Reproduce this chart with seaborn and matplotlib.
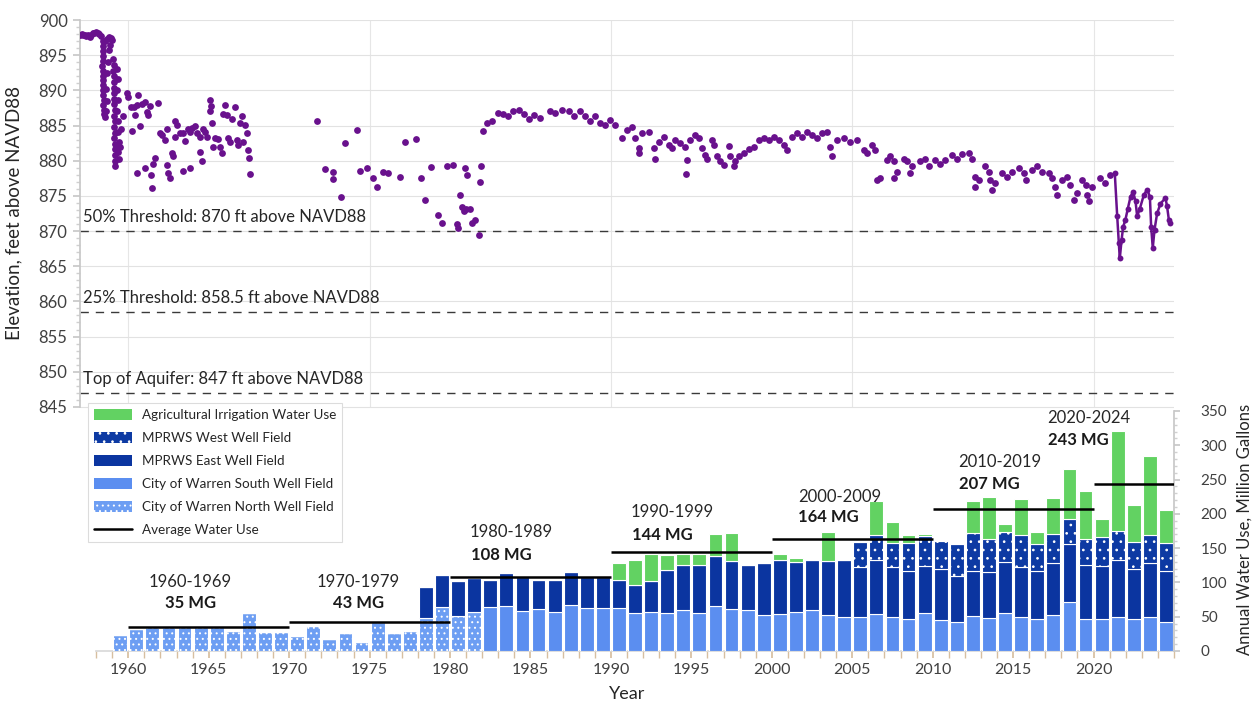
import numpy as np
import matplotlib
matplotlib.use('Agg')
import matplotlib.pyplot as plt
from matplotlib.patches import Patch
from matplotlib.lines import Line2D
import seaborn as sns

sns.set_theme(style='white')
plt.rcParams['font.family'] = ['Lato', 'DejaVu Sans']
plt.rcParams['hatch.linewidth'] = 0.7

# ---- annual water use, million gallons (1959-2024) ----
years = list(range(1959, 2025))
north = ([24, 32, 35, 35, 35, 35, 35, 29, 55, 28,
          28, 22, 36, 17.5, 26, 13, 43, 26, 29, 48,
          64, 51, 57] + [0] * 43)
south = ([0] * 23 +
         [64, 66, 59, 61, 57, 67, 63, 63,
          62, 55, 57, 56, 60, 56, 66, 61, 60, 53,
          54, 57, 60, 53, 50, 49, 54, 49, 46, 55,
          45, 42, 51, 48, 55, 49, 47, 52, 72, 46,
          46, 50, 46, 49, 43])
east = ([0] * 19 +
        [46, 47, 51, 50, 40, 47, 49, 43, 47, 48, 45, 45,
         41, 41, 45, 62, 66, 70, 73, 70, 66, 75,
         79, 73, 73, 78, 83, 74, 79, 73, 71, 69,
         75, 68, 66, 67, 75, 74, 69, 77, 84, 80,
         78, 83, 73, 80, 74])
west = ([0] * 46 +
        [36, 36, 36, 41, 43,
         41, 46, 55, 49, 43, 46, 40, 42, 37, 37,
         42, 42, 40, 40, 40])
ag = ([0] * 31 +
      [26, 37, 40, 22, 15, 15, 31, 41, 0, 0,
       9, 5, 0, 43, 0, 0, 50, 30, 11, 3,
       0, 0, 47, 60, 12, 52, 18, 52, 72, 71,
       26, 146, 54, 115, 49])

decade_start = [1960, 1970, 1980, 1990, 2000, 2010, 2020]
decade_end = [1970, 1980, 1990, 2000, 2010, 2020, 2025]
decade_avg = [35, 43, 108, 144, 164, 207, 243]
decade_names = ['1960-1969', '1970-1979', '1980-1989', '1990-1999',
                '2000-2009', '2010-2019', '2020-2024']

# ---- groundwater elevation, ft above NAVD88 (scattered measurements) ----
elev_year = [
    1957.00, 1957.10, 1957.20, 1957.30, 1957.40, 1957.50, 1957.60, 1957.70,
    1957.80, 1957.90, 1958.00, 1958.10, 1958.20, 1958.30, 1958.55, 1958.70,
    1958.80, 1958.90, 1959.00,
    1958.40, 1958.42, 1958.40, 1958.44, 1958.41, 1958.38, 1958.43, 1958.40,
    1958.45, 1958.42, 1958.46, 1958.43, 1958.49, 1958.45, 1958.52, 1958.50,
    1958.57, 1958.62, 1958.66, 1958.60, 1958.70, 1958.75, 1958.83, 1958.88,
    1959.06, 1959.10, 1959.08, 1959.12, 1959.09, 1959.13, 1959.10, 1959.14,
    1959.11, 1959.15, 1959.12, 1959.16, 1959.13, 1959.17, 1959.14, 1959.18,
    1959.15, 1959.19, 1959.16, 1959.18,
    1959.30, 1959.34, 1959.31, 1959.36, 1959.32, 1959.38, 1959.34, 1959.40,
    1959.36, 1959.42, 1959.50, 1959.55,
    1959.90, 1960.00, 1960.62, 1960.17, 1960.38, 1960.52, 1960.83, 1961.04,
    1961.35, 1961.83, 1960.42, 1961.14, 1961.25, 1959.69, 1960.73, 1960.21,
    1961.97, 1962.08, 1962.28, 1962.39, 1962.90, 1963.01, 1962.90, 1963.21,
    1963.42, 1963.53, 1963.73, 1963.84, 1963.94, 1964.15, 1964.25, 1964.46,
    1964.67, 1964.77, 1964.87, 1965.08, 1965.14, 1965.08, 1965.23, 1965.29,
    1965.39, 1965.60, 1965.70, 1965.81, 1966.01, 1965.91, 1966.12, 1966.22,
    1966.32, 1966.43, 1966.64, 1966.74, 1966.84, 1966.95, 1967.05, 1967.15,
    1967.26, 1967.36, 1967.46, 1967.51, 1967.57, 1964.46, 1964.56, 1963.84,
    1963.42, 1962.70, 1962.80, 1962.39, 1962.49, 1962.59, 1961.66, 1961.56,
    1961.41, 1961.04, 1960.52, 1961.48,
    1971.76, 1974.24, 1973.48, 1977.21, 1977.89, 1972.23, 1972.75, 1972.75,
    1973.21, 1974.41, 1974.87, 1975.24, 1975.45, 1975.86, 1976.13, 1976.86,
    1978.20, 1978.45, 1978.82, 1979.28, 1979.49, 1979.84, 1980.17, 1980.59,
    1980.73, 1980.84, 1981.00, 1981.25, 1980.96, 1981.08, 1980.42, 1980.52,
    1981.35, 1981.56, 1981.77, 1981.91, 1981.87,
    1982.08, 1982.29, 1982.60, 1983.01, 1983.32, 1983.63, 1983.94, 1984.26,
    1984.57, 1984.88, 1985.19, 1985.60, 1986.23, 1986.54, 1986.95, 1987.37,
    1987.68, 1988.09, 1988.40, 1988.71, 1989.02, 1989.33, 1989.65, 1989.96,
    1990.27, 1990.68, 1990.99, 1991.30, 1991.51, 1991.72, 1991.72, 1991.93,
    1992.34, 1992.65, 1992.76, 1992.96, 1993.27, 1993.58, 1993.79, 1994.00,
    1994.31, 1994.62, 1994.72, 1994.68, 1994.93, 1995.24, 1995.45, 1995.66,
    1995.87, 1995.97, 1996.28, 1996.38, 1996.59, 1996.80, 1997.00, 1997.32,
    1997.42, 1997.63, 1997.73, 1997.94, 1998.25, 1998.56, 1998.87, 1999.18,
    1999.49, 1999.80, 2000.11, 2000.43, 2000.74, 2000.94, 2001.26, 2001.57,
    2001.88, 2002.19, 2002.50, 2002.81, 2003.12, 2003.43, 2003.64, 2003.74,
    2004.05, 2004.47, 2004.88, 2005.30, 2005.71, 2005.92, 2006.23, 2006.44,
    2006.54, 2006.75, 2007.16, 2007.37, 2007.58, 2007.58, 2007.79, 2008.20,
    2008.41, 2008.61, 2008.72, 2009.24, 2009.55, 2009.75, 2010.17, 2010.48,
    2010.79, 2011.20, 2011.52, 2011.83, 2012.24, 2012.45, 2012.66, 2012.66,
    2012.86, 2013.28, 2013.48, 2013.59, 2013.69, 2013.90, 2014.31, 2014.62,
    2014.94, 2015.35, 2015.66, 2015.77, 2016.18, 2016.49, 2016.80, 2017.22,
    2017.42, 2017.63, 2017.73, 2018.05, 2018.36, 2018.56, 2018.77, 2018.98,
    2019.29, 2019.50, 2019.60, 2019.70, 2019.91, 2020.43, 2020.74, 2021.05,
]
elev_ft = [
    897.9, 898.0, 897.8, 897.9, 897.7, 897.9, 897.6, 897.8,
    898.1, 898.2, 898.3, 898.2, 898.0, 897.7, 897.0, 897.3,
    897.6, 897.5, 897.1,
    897.0, 896.3, 895.6, 894.9, 894.2, 893.5, 892.8, 892.1,
    891.4, 890.7, 890.0, 889.3, 888.6, 887.9, 887.2, 886.6,
    886.2, 887.0, 888.5, 890.2, 892.4, 894.0, 895.8, 896.5,
    894.4, 893.6, 892.8, 892.0, 891.2, 890.4, 889.6, 888.8,
    888.0, 887.2, 886.4, 885.6, 884.8, 884.0, 883.2, 882.4,
    881.6, 880.8, 880.0, 879.3,
    893.0, 891.6, 890.1, 888.6, 887.1, 885.6, 884.1, 882.6,
    881.2, 880.2, 882.0, 884.5,
    889.6, 889.1, 889.4, 887.7, 887.7, 887.9, 888.0, 888.3,
    887.8, 888.2, 886.5, 886.9, 886.5, 886.3, 885.0, 884.2,
    884.0, 883.7, 882.9, 884.5, 885.6, 885.1, 883.3, 883.9,
    884.0, 882.8, 884.5, 884.1, 884.6, 885.0, 883.9, 883.3,
    884.5, 884.1, 883.4, 888.6, 887.8, 887.0, 885.3, 882.0,
    883.2, 883.1, 882.0, 881.1, 887.9, 886.7, 886.5, 883.2,
    882.7, 885.9, 887.7, 882.9, 882.3, 885.3, 886.4, 882.7,
    885.1, 883.9, 881.5, 880.4, 878.1, 881.2, 880.0, 879.0,
    878.6, 881.1, 880.6, 879.4, 878.2, 877.5, 880.4, 879.6,
    878.0, 879.0, 878.2, 876.1,
    885.6, 884.4, 882.5, 882.7, 883.1, 878.8, 878.4, 877.4,
    874.9, 878.5, 878.9, 877.6, 876.2, 878.4, 878.3, 877.7,
    877.5, 874.4, 879.1, 872.3, 871.2, 879.3, 879.4, 875.1,
    873.4, 872.9, 873.2, 873.2, 878.9, 878.0, 871.0, 870.4,
    871.2, 871.6, 869.4, 879.3, 877.0,
    884.2, 885.3, 885.6, 886.8, 886.7, 886.4, 887.0, 887.2,
    886.6, 885.9, 886.5, 886.0, 887.1, 886.8, 887.2, 887.0,
    886.4, 887.0, 886.4, 885.6, 886.3, 885.3, 885.1, 885.8,
    885.1, 883.2, 884.4, 884.8, 883.2, 881.8, 881.1, 883.9,
    884.1, 881.8, 880.2, 882.7, 883.4, 882.2, 881.8, 882.9,
    882.5, 882.0, 880.1, 878.1, 882.9, 883.7, 883.2, 881.8,
    880.8, 880.3, 882.9, 882.2, 880.6, 879.9, 879.4, 882.1,
    880.6, 879.2, 879.9, 880.6, 881.1, 881.6, 882.0, 883.0,
    883.2, 882.9, 883.4, 882.9, 882.2, 881.5, 883.4, 883.9,
    883.4, 884.1, 883.7, 883.2, 883.9, 884.1, 882.0, 880.6,
    883.0, 883.2, 882.7, 882.9, 881.5, 881.1, 882.2, 881.5,
    877.3, 877.6, 880.1, 880.6, 879.9, 877.5, 878.4, 880.3,
    879.9, 878.2, 879.2, 879.9, 880.3, 879.2, 880.1, 879.6,
    880.1, 880.8, 880.3, 881.0, 881.1, 880.3, 877.7, 876.3,
    877.3, 879.2, 878.4, 877.3, 875.8, 876.8, 878.2, 877.7,
    878.4, 878.9, 878.2, 877.3, 878.7, 879.2, 878.4, 878.2,
    877.5, 876.3, 875.1, 877.3, 877.7, 876.6, 874.4, 875.4,
    877.3, 876.6, 875.1, 874.2, 876.3, 877.5, 876.8, 878.0,
]

# recent continuous record (drawn as a connected line)
recent_year = [2021.32, 2021.47, 2021.57, 2021.63, 2021.74, 2021.84, 2021.98,
               2022.13, 2022.30, 2022.46, 2022.61, 2022.71, 2022.88, 2023.12,
               2023.33, 2023.50, 2023.58, 2023.68, 2023.79, 2023.95, 2024.16,
               2024.47, 2024.57, 2024.68, 2024.74]
recent_ft = [878.2, 872.1, 868.3, 866.1, 868.7, 870.6, 871.6,
             873.2, 874.9, 875.6, 874.2, 872.1, 873.2, 875.1,
             875.9, 874.9, 870.6, 867.6, 870.2, 872.5, 873.9,
             874.7, 873.5, 871.6, 871.1]

thresholds = [870, 858.5, 847]
threshold_labels = ['50% Threshold: 870 ft above NAVD88',
                    '25% Threshold: 858.5 ft above NAVD88',
                    'Top of Aquifer: 847 ft above NAVD88']

# ---- colours ----
purple = '#69118d'
c_ag = '#62d262'
c_west = '#0d3aa3'
c_east = '#0b35a0'
c_south = '#5b8ef0'
c_north = '#6d9ef3'
tick_col = '#404040'

fig = plt.figure(figsize=(12.59, 7.04), dpi=100)
ax = fig.add_axes([80 / 1259, 53 / 704, 1094 / 1259, 631 / 704])
ax2 = ax.twinx()

# ---- stacked bars ----
x = np.array(years) + 0.5
n = np.array(north, dtype=float)
s = np.array(south, dtype=float)
e = np.array(east, dtype=float)
w = np.array(west, dtype=float)
a = np.array(ag, dtype=float)
bw = 0.86
kw = dict(width=bw, edgecolor='white', linewidth=0.8, zorder=2)
ax2.bar(x, n, color=c_north, hatch='...', **kw)
ax2.bar(x, s, bottom=n, color=c_south, **kw)
ax2.bar(x, e, bottom=n + s, color=c_east, **kw)
ax2.bar(x, w, bottom=n + s + e, color=c_west, hatch='..', **kw)
ax2.bar(x, a, bottom=n + s + e + w, color=c_ag, **kw)

ax2.hlines(decade_avg, decade_start, decade_end, color='black', lw=1.8, zorder=4)

name_x = [1963.85, 1974.3, 1983.8, 1993.8, 2004.2, 2014.15, 2019.7]
name_y = [101, 101, 174, 202.6, 224.5, 275.5, 339.6]
mg_x = [1963.85, 1974.3, 1983.2, 1993.2, 2003.5, 2013.55, 2019.05]
mg_y = [70, 70, 140, 169, 195, 243, 307.6]
for i, nm in enumerate(decade_names):
    ax2.text(name_x[i], name_y[i], nm, ha='center', va='center',
             fontsize=12, color='#262626', zorder=5)
    ax2.text(mg_x[i], mg_y[i], f'{decade_avg[i]} MG', ha='center', va='center',
             fontsize=12, fontweight='bold', color='#1a1a1a', zorder=5)

# ---- elevation ----
ax.grid(axis='y', which='major', color='#e2e2e2', lw=0.8)
ax.set_axisbelow(True)
ax.vlines([1960, 1975, 1990, 2005, 2020], 845, 900, color='#e6e6e6', lw=0.8, zorder=0)
for t, lbl in zip(thresholds, threshold_labels):
    ax.axhline(t, color='#3a3a3a', lw=1.0, dashes=(6, 5), zorder=2)
    ax.text(1957.2, t + 2.0, lbl, ha='left', va='center', fontsize=12, color='#262626')

sns.scatterplot(x=elev_year, y=elev_ft, ax=ax, color=purple, s=24,
                linewidth=0, zorder=3, legend=False)
sns.lineplot(x=recent_year, y=recent_ft, ax=ax, color=purple, lw=1.8,
             sort=False, estimator=None, zorder=3, legend=False)
sns.scatterplot(x=recent_year, y=recent_ft, ax=ax, color=purple, s=18,
                linewidth=0, zorder=3, legend=False)

# ---- axes cosmetics ----
ax.set_xlim(1957, 2025)
ax.set_ylim(810.3, 900)
ax2.set_ylim(0, 920)

ax.set_yticks(np.arange(845, 901, 5))
ax.set_yticks(np.arange(845, 901, 1), minor=True)
ax2.set_yticks(np.arange(0, 351, 50))
ax2.set_yticks(np.arange(0, 351, 10), minor=True)
ax.set_xticks(np.arange(1960, 2021, 5))
ax.set_xticks(np.arange(1958, 2026, 1), minor=True)

for sp in ['top', 'right']:
    ax.spines[sp].set_visible(False)
for sp in ['top', 'left', 'bottom']:
    ax2.spines[sp].set_visible(False)
ax.spines['left'].set_bounds(845, 900)
ax.spines['left'].set_color('#c8c8c8')
ax.spines['bottom'].set_color('#d9d9d9')
ax.spines['bottom'].set_bounds(1958, 2025)
ax2.spines['right'].set_bounds(0, 350)
ax2.spines['right'].set_color('#c8c8c8')

ax.tick_params(axis='y', which='major', left=True, length=5, color='#c8c8c8',
               labelsize=12, labelcolor=tick_col, pad=4)
ax.tick_params(axis='y', which='minor', left=True, length=3, color='#d0d0d0')
ax.tick_params(axis='x', which='both', bottom=True, length=5, color='#d7bfa0',
               labelsize=11.5, labelcolor=tick_col, pad=4)
ax2.tick_params(axis='y', which='major', right=True, length=4, color='#c8c8c8',
                labelsize=11, labelcolor=tick_col, pad=15)
ax2.tick_params(axis='y', which='minor', right=True, length=2, color='#d0d0d0')

ax.set_xlabel('Year', fontsize=13, color='#262626', labelpad=6)
ax.set_ylabel('Elevation, feet above NAVD88', fontsize=13.5, color='#262626')
ax.yaxis.set_label_coords(-0.053, 0.694)
ax2.set_ylabel('Annual Water Use, Million Gallons', fontsize=12, color='#262626')
ax2.yaxis.set_label_coords(1.057, 0.192)

# ---- legend ----
handles = [
    Patch(facecolor=c_ag, edgecolor='white', lw=0, label='Agricultural Irrigation Water Use'),
    Patch(facecolor=c_west, edgecolor='white', hatch='..', lw=0, label='MPRWS West Well Field'),
    Patch(facecolor=c_east, edgecolor='white', lw=0, label='MPRWS East Well Field'),
    Patch(facecolor=c_south, edgecolor='white', lw=0, label='City of Warren South Well Field'),
    Patch(facecolor=c_north, edgecolor='white', hatch='...', lw=0, label='City of Warren North Well Field'),
    Line2D([0], [0], color='black', lw=1.8, label='Average Water Use'),
]
leg = ax2.legend(handles=handles, loc='upper left',
                 bbox_to_anchor=(88 / 1259, 1 - 403 / 704), bbox_transform=fig.transFigure,
                 fontsize=9.7, frameon=True, fancybox=False, framealpha=1,
                 edgecolor='#dcdcdc', handlelength=2.8, handleheight=0.9,
                 handletextpad=0.75, labelspacing=0.8, borderpad=0.45,
                 borderaxespad=0)
leg.get_frame().set_linewidth(0.8)
for t in leg.get_texts():
    t.set_color('#262626')
leg.set_zorder(6)

plt.savefig('out.png', dpi=100)
